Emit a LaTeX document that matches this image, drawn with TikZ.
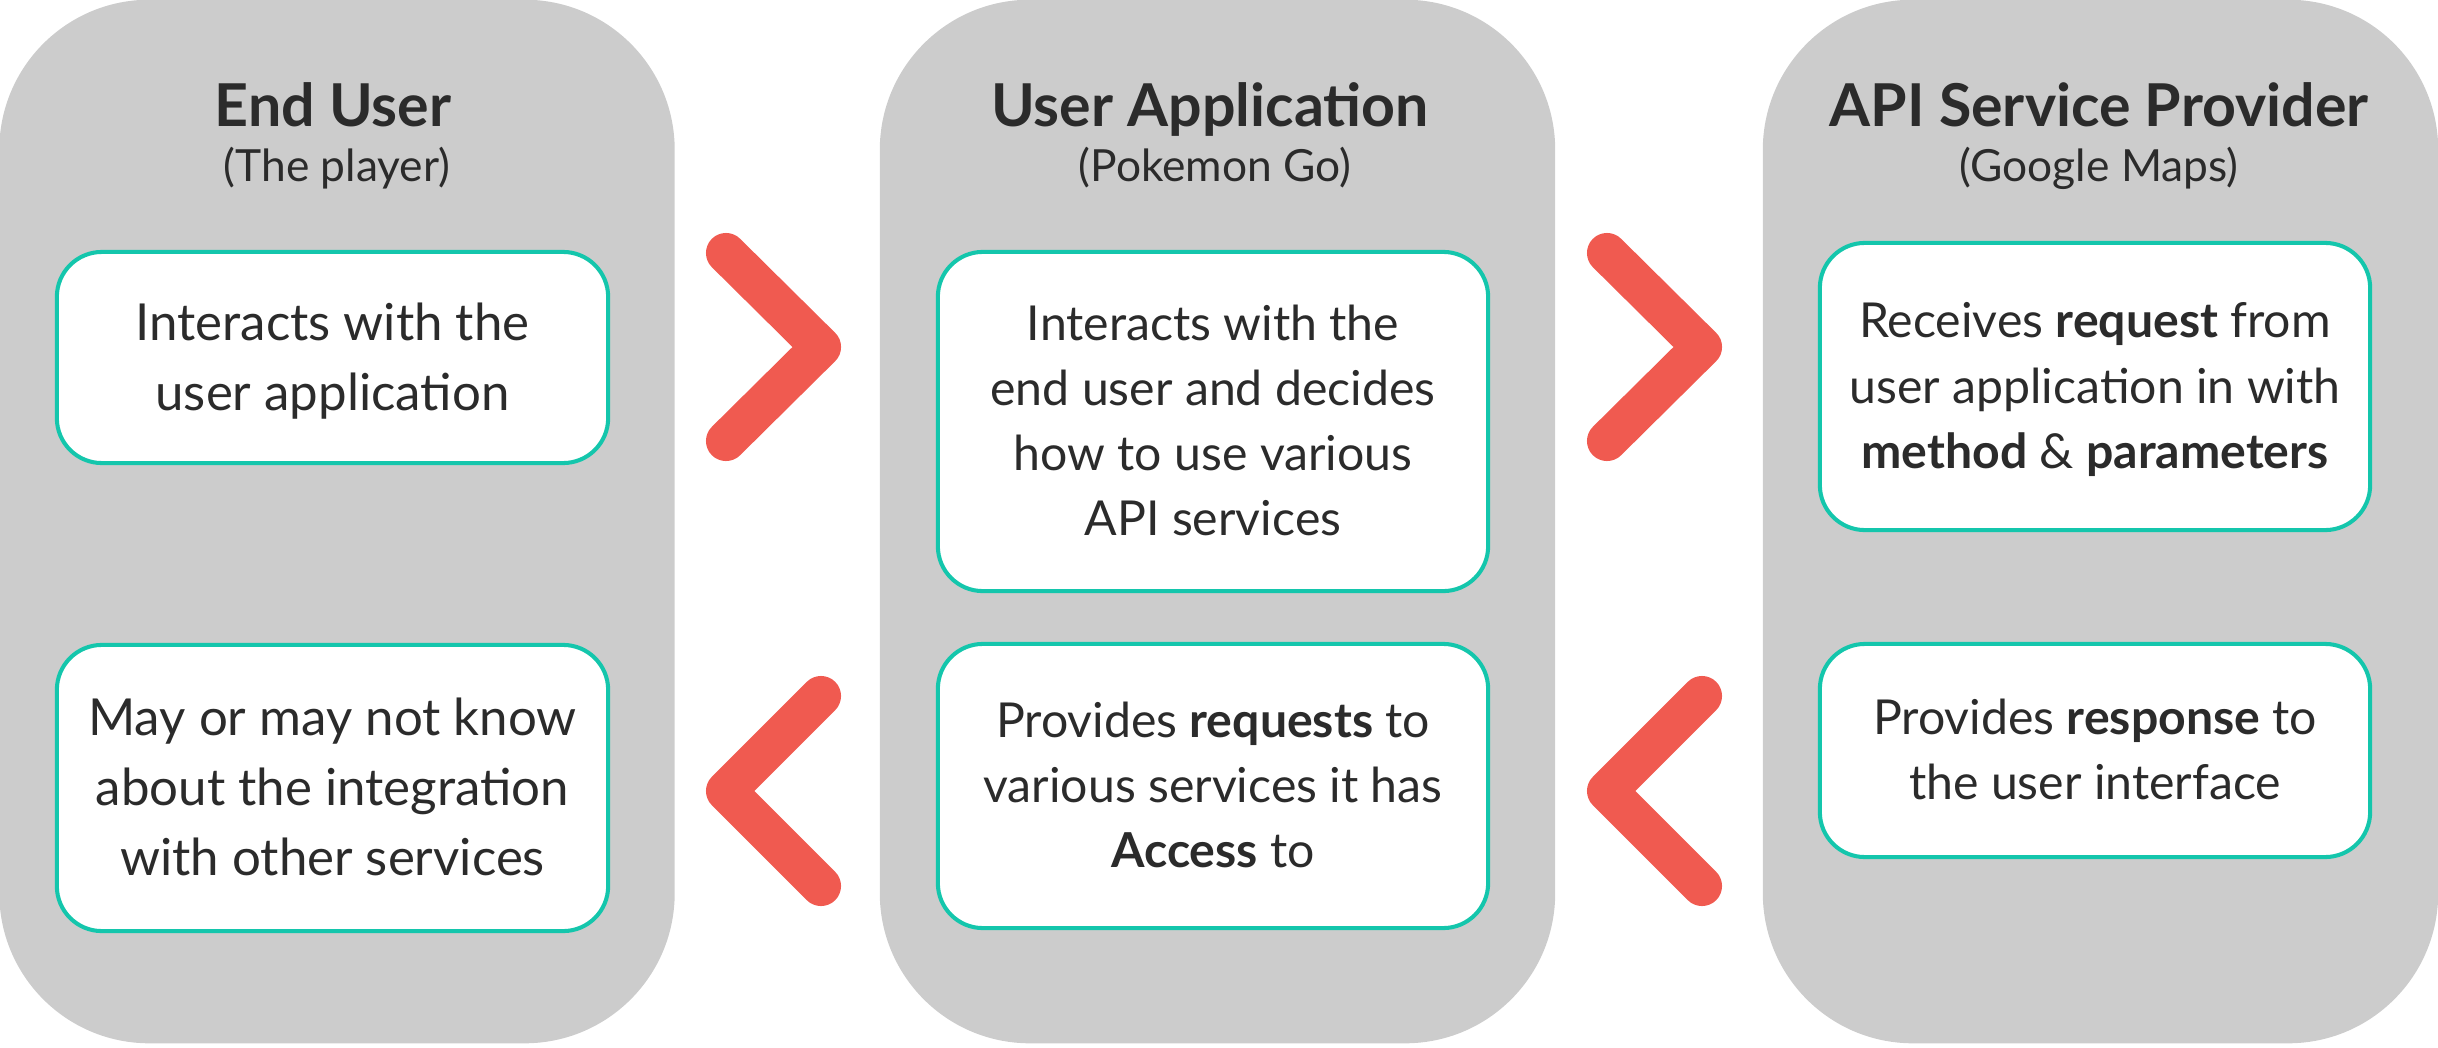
\documentclass[tikz,border=0pt]{standalone}
\usepackage{fontspec}
\setmainfont{Lato}
\definecolor{colgray}{HTML}{CCCCCC}
\definecolor{tealb}{HTML}{14C6AC}
\definecolor{chevred}{HTML}{F05A50}
\definecolor{ink}{HTML}{2B2B2B}
\tikzset{
  column/.style={fill=colgray, draw=none, rounded corners=1.5cm, minimum width=6.75cm, minimum height=10.43cm, inner sep=0pt},
  card/.style={fill=white, draw=tealb, line width=1.15pt, rounded corners=0.45cm, inner sep=0pt, align=center, text=ink, text depth=0.6pt},
  bodyA/.style={font=\fontsize{14.5}{19.9}\selectfont},
  bodyB/.style={font=\fontsize{13.7}{18.5}\selectfont},
  title/.style={anchor=base, text=ink, font=\fontsize{16.8}{19}\selectfont\bfseries, inner sep=0pt},
  subtitle/.style={anchor=base, text=ink, font=\fontsize{12.6}{14}\selectfont, inner sep=0pt},
  chevron/.style={draw=chevred, line width=11.4pt, line cap=round, line join=round}
}
\begin{document}
\begin{tikzpicture}[x=0.01cm, y=-0.01cm]
\useasboundingbox (0,0) rectangle (2438,1048);
% columns
\node[column] (c1) at (337,521.5) {};
\node[column] (c2) at (1217.5,521.5) {};
\node[column] (c3) at (2100.5,521.5) {};
% titles
\node[title] (t1) at (333,126) {End User};
\node[subtitle] (s1) at (337,181) {(The player)};
\node[title] (t2) at (1210,126) {User Application};
\node[subtitle] (s2) at (1215,181) {(Pokemon Go)};
\node[title] (t3) at (2099,126) {API Service Provider};
\node[subtitle] (s3) at (2099,181) {(Google Maps)};
% cards
\node[card, bodyA, minimum width=5.51cm, minimum height=2.11cm] (b1a) at (332.5,357.5) {Interacts with the\\user application};
\node[card, bodyA, minimum width=5.51cm, minimum height=2.86cm] (b1b) at (332.5,788) {May or may not know\\about the integration\\with other services};
\node[card, bodyB, minimum width=5.50cm, minimum height=3.39cm] (b2a) at (1213,421.5) {Interacts with the\\end user and decides\\how to use various\\API services};
\node[card, bodyB, minimum width=5.50cm, minimum height=2.84cm] (b2b) at (1213,786) {Provides \textbf{requests} to\\various services it has\\\textbf{Access} to};
\node[card, bodyB, minimum width=5.50cm, minimum height=2.87cm] (b3a) at (2095,386.5) {Receives \textbf{request} from\\user application in with\\\textbf{method} \& \textbf{parameters}};
\node[card, bodyB, minimum width=5.50cm, minimum height=2.13cm] (b3b) at (2095,750.5) {Provides \textbf{response} to\\the user interface};
% chevrons
\coordinate (r1a) at (726,253);  \coordinate (r1t) at (821,347);  \coordinate (r1b) at (726,441);
\coordinate (r2a) at (1607,253); \coordinate (r2t) at (1702,347); \coordinate (r2b) at (1607,441);
\coordinate (l1a) at (821,696);  \coordinate (l1t) at (726,791);  \coordinate (l1b) at (821,886);
\coordinate (l2a) at (1702,696); \coordinate (l2t) at (1607,791); \coordinate (l2b) at (1702,886);
\draw[chevron] (r1a) -- (r1t) -- (r1b);
\draw[chevron] (r2a) -- (r2t) -- (r2b);
\draw[chevron] (l1a) -- (l1t) -- (l1b);
\draw[chevron] (l2a) -- (l2t) -- (l2b);
\end{tikzpicture}
\end{document}
